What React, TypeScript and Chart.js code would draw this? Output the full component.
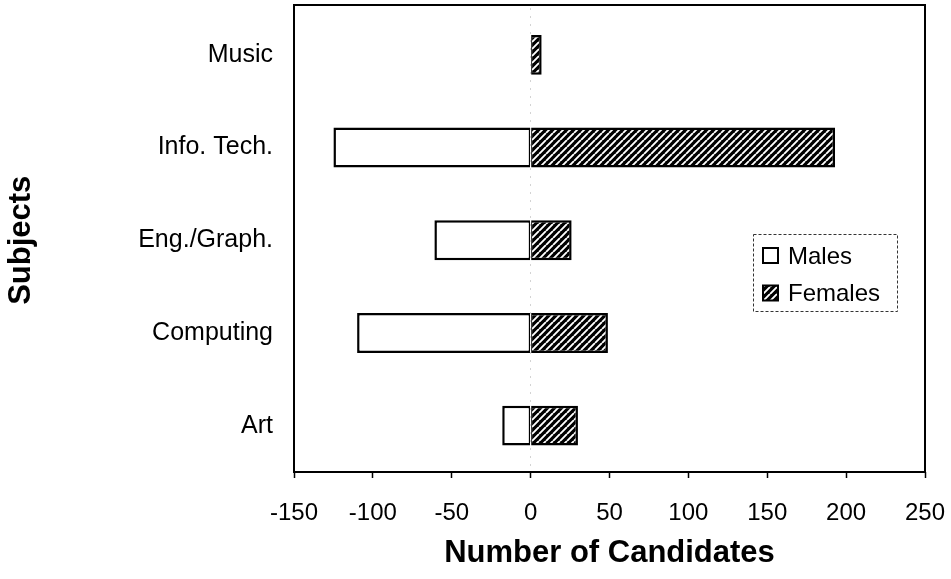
import React, { useEffect, useRef } from "react";
import { Chart, registerables } from "chart.js";

Chart.register(...registerables);

const categories = ["Music", "Info. Tech.", "Eng./Graph.", "Computing", "Art"];
const malesValues = [0, -125, -61, -110, -18];
const femalesValues = [7, 193, 26, 49, 30];
const seriesNames = ["Males", "Females"];
const xTickValues = [-150, -100, -50, 0, 50, 100, 150, 200, 250];
const xAxisTitle = "Number of Candidates";
const yAxisTitle = "Subjects";

const FONT = "'Liberation Sans', Arial, Helvetica, sans-serif";

function makeHatch(): CanvasPattern | string {
  const p = 7;
  const c = document.createElement("canvas");
  c.width = p;
  c.height = p;
  const g = c.getContext("2d");
  if (!g) return "#000";
  g.fillStyle = "#000";
  g.fillRect(0, 0, p, p);
  g.strokeStyle = "#fff";
  g.lineWidth = 1.9;
  g.beginPath();
  for (let k = -1; k <= 1; k++) {
    g.moveTo(k * p, p);
    g.lineTo(k * p + p, 0);
  }
  g.stroke();
  const pat = g.createPattern(c, "repeat");
  return pat || "#000";
}

function zeroPadding(scale: any) {
  scale.paddingTop = 0;
  scale.paddingBottom = 0;
  scale.paddingLeft = 0;
  scale.paddingRight = 0;
}

export default function App() {
  const ref = useRef<HTMLCanvasElement | null>(null);

  useEffect(() => {
    if (!ref.current) return;
    const hatch = makeHatch();

    const frameAndLegend = {
      id: "frameAndLegend",
      afterDatasetsDraw(chart: any) {
        const { ctx, chartArea } = chart;
        ctx.save();
        const frameTop = chartArea.top - 3.5;
        ctx.strokeStyle = "#000";
        ctx.lineWidth = 2;
        ctx.setLineDash([]);
        ctx.strokeRect(chartArea.left, frameTop, chartArea.right - chartArea.left, chartArea.bottom - frameTop);

        const lx = chartArea.right - 172;
        const ly = frameTop + 229;
        const lw = 144;
        const lh = 77;
        ctx.fillStyle = "#fff";
        ctx.fillRect(lx, ly, lw, lh);
        ctx.strokeStyle = "#333";
        ctx.lineWidth = 1;
        ctx.setLineDash([3, 2]);
        ctx.strokeRect(lx + 0.5, ly + 0.5, lw, lh);
        ctx.setLineDash([]);

        const fills = ["#fff", hatch];
        const rows = [ly + 22, ly + 59.5];
        ctx.font = `24px ${FONT}`;
        ctx.textBaseline = "middle";
        ctx.textAlign = "left";
        for (let i = 0; i < 2; i++) {
          const sx = lx + 10;
          const sy = rows[i] - 8;
          ctx.fillStyle = fills[i] as any;
          ctx.fillRect(sx, sy, 15, 15);
          ctx.strokeStyle = "#000";
          ctx.lineWidth = 2;
          ctx.strokeRect(sx, sy, 15, 15);
          ctx.fillStyle = "#000";
          ctx.fillText(seriesNames[i], lx + 35, rows[i] + 1);
        }
        ctx.restore();
      },
    };

    const chart = new Chart(ref.current, {
      type: "bar",
      data: {
        labels: categories,
        datasets: [
          {
            label: seriesNames[0],
            data: malesValues,
            backgroundColor: "#fff",
            borderColor: "#000",
            borderWidth: { top: 2.5, bottom: 2.5, left: 2.5, right: 1.5 },
            borderSkipped: false,
            barPercentage: 0.43,
            categoryPercentage: 1,
          },
          {
            label: seriesNames[1],
            data: femalesValues,
            backgroundColor: hatch as any,
            borderColor: "#000",
            borderWidth: { top: 2.5, bottom: 2.5, left: 1, right: 2.5 },
            borderSkipped: false,
            barPercentage: 0.43,
            categoryPercentage: 1,
          },
        ],
      },
      options: {
        indexAxis: "y",
        responsive: false,
        animation: false,
        layout: { padding: { left: 0, right: 26, top: 8.5, bottom: 0 } },
        plugins: {
          legend: { display: false },
          tooltip: { enabled: false },
          title: { display: false },
        },
        scales: {
          x: {
            type: "linear",
            stacked: true,
            min: -150,
            max: 250,
            afterBuildTicks: (scale: any) => {
              scale.ticks = xTickValues.map((v) => ({ value: v }));
            },
            afterFit: (scale: any) => {
              scale.height = 107;
              zeroPadding(scale);
            },
            ticks: {
              color: "#000",
              font: { family: FONT, size: 24 },
              padding: 21,
              maxRotation: 0,
              autoSkip: false,
            },
            grid: {
              display: true,
              drawOnChartArea: true,
              drawTicks: true,
              tickLength: 6,
              tickColor: "#000",
              tickWidth: 1.5,
              color: (ctx: any) => (ctx.tick && ctx.tick.value === 0 ? "rgba(0,0,0,0.35)" : "rgba(0,0,0,0)"),
              lineWidth: 1,
            },
            border: { display: false, dash: [1, 7] },
            title: {
              display: true,
              text: xAxisTitle,
              color: "#000",
              font: { family: FONT, size: 31, weight: "bold", lineHeight: 1.2 },
              padding: { top: 0, bottom: 7 },
            },
          },
          y: {
            type: "category",
            stacked: true,
            afterFit: (scale: any) => {
              scale.width = 294;
              zeroPadding(scale);
            },
            ticks: {
              color: "#000",
              font: { family: FONT, size: 25 },
              padding: 21,
            },
            grid: { display: false, drawTicks: false },
            border: { display: false },
            title: {
              display: true,
              text: yAxisTitle,
              color: "#000",
              font: { family: FONT, size: 31, weight: "bold", lineHeight: 1.2 },
              padding: { top: 3, bottom: 0 },
            },
          },
        },
      },
      plugins: [frameAndLegend],
    } as any);

    return () => {
      chart.destroy();
    };
  }, []);

  return (
    <div style={{ position: "fixed", left: 0, top: 0, width: 951, height: 579, background: "#fff" }}>
      <canvas ref={ref} width={951} height={579} style={{ display: "block", width: 951, height: 579 }} />
    </div>
  );
}
